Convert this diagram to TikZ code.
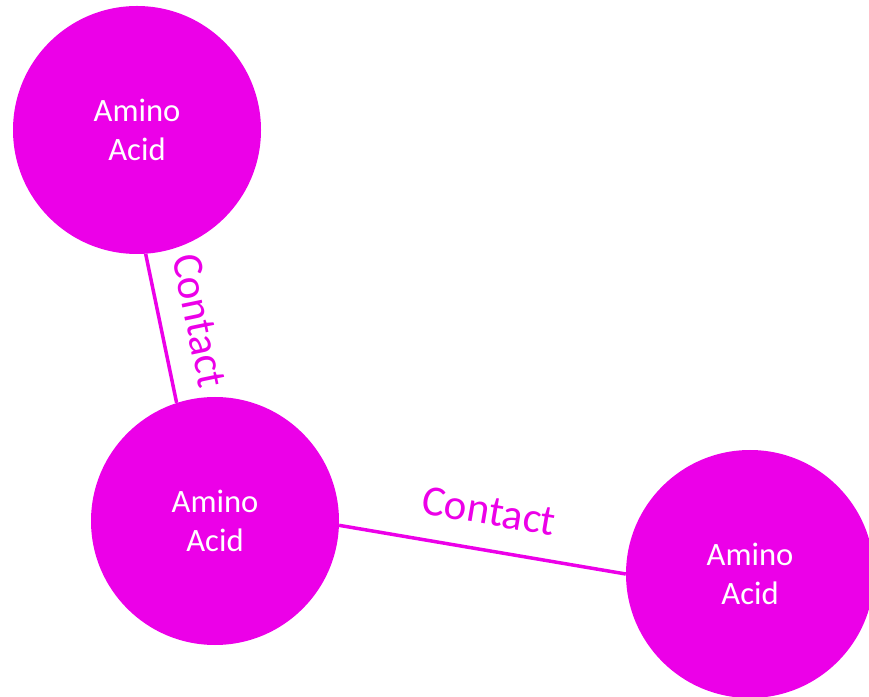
\documentclass[tikz,border=0pt]{standalone}
\usepackage{fontspec}
\setmainfont{Carlito}
\usepackage{tikz}
\usetikzlibrary{positioning}
\definecolor{magenta}{RGB}{236,0,232}
\tikzset{
  acid/.style={circle,fill=magenta,minimum size=248pt,inner sep=0pt,
    text=white,align=center,font=\fontsize{32.6}{39}\selectfont},
  contact/.style={magenta,line width=3.5pt},
  contactlabel/.style={midway,sloped,above=20pt,text=magenta,
    font=\fontsize{43}{50}\selectfont}
}

\begin{document}
\begin{tikzpicture}[x=1pt,y=1pt]
  \useasboundingbox (0,0) rectangle (869,696);
  \node[acid] (acid1) at (137,566) {Amino\\Acid};
  \node[acid] (acid2) at (215,175) {Amino\\Acid};
  \node[acid] (acid3) at (750,122) {Amino\\Acid};
  \draw[contact] (acid1.-86.4) -- (acid2.108.6) node[contactlabel] {Contact};
  \draw[contact] (acid2.-2.3) -- (acid3.180) node[contactlabel] {Contact};
\end{tikzpicture}
\end{document}
